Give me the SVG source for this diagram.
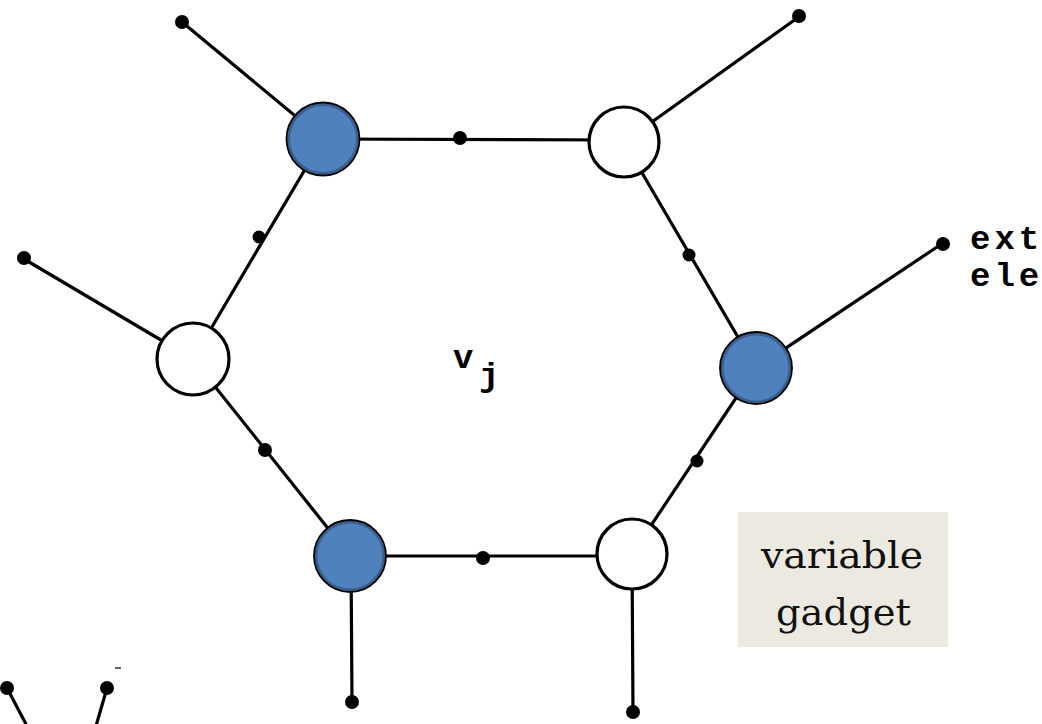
<svg xmlns="http://www.w3.org/2000/svg" width="1042" height="724" viewBox="0 0 1042 724">
<style>
.ln{stroke:#000;stroke-width:3.2;fill:none;stroke-linecap:round}
.dot{fill:#000}
.wn{fill:#fff;stroke:#000;stroke-width:3.2}
.bn{fill:#4F81BD;stroke:#3A5F8F;stroke-width:3}
.bo{fill:none;stroke:#000;stroke-width:1.8}
.mono{font-family:"Liberation Mono","DejaVu Sans Mono",monospace;font-size:34px;font-weight:bold;fill:#000}
.lbl{font-family:"DejaVu Serif","Liberation Serif",serif;font-size:37px;fill:#111}
</style>
<rect width="1042" height="724" fill="#fff"/>
<g id="connectors">
<line class="ln" x1="323" y1="139" x2="624" y2="140"/>
<line class="ln" x1="323" y1="139" x2="193" y2="359"/>
<line class="ln" x1="624" y1="142" x2="756" y2="368"/>
<line class="ln" x1="193" y1="359" x2="350" y2="556"/>
<line class="ln" x1="756" y1="368" x2="632" y2="554"/>
<line class="ln" x1="350" y1="556" x2="632" y2="556"/>
<line class="ln" x1="323" y1="139" x2="182" y2="22"/>
<line class="ln" x1="624" y1="142" x2="800" y2="16"/>
<line class="ln" x1="193" y1="359" x2="24" y2="259"/>
<line class="ln" x1="756" y1="368" x2="943" y2="243"/>
<line class="ln" x1="351" y1="556" x2="352" y2="702"/>
<line class="ln" x1="632" y1="554" x2="633" y2="712"/>
<line class="ln" x1="7" y1="688" x2="27" y2="726"/>
<line class="ln" x1="107" y1="688" x2="96" y2="726"/>
<line stroke="#000" stroke-width="1.2" x1="115" y1="668" x2="121" y2="668"/>
<circle class="dot" cx="460" cy="138" r="7"/>
<circle class="dot" cx="259" cy="237" r="6.5"/>
<circle class="dot" cx="689" cy="255" r="6.5"/>
<circle class="dot" cx="265" cy="450" r="7"/>
<circle class="dot" cx="697" cy="461" r="6.5"/>
<circle class="dot" cx="483" cy="558" r="7"/>
<circle class="dot" cx="182" cy="22" r="7"/>
<circle class="dot" cx="799" cy="16" r="7"/>
<circle class="dot" cx="24" cy="258" r="7"/>
<circle class="dot" cx="943" cy="244" r="7"/>
<circle class="dot" cx="352" cy="702" r="7"/>
<circle class="dot" cx="633" cy="712" r="7"/>
<circle class="dot" cx="7" cy="688" r="7"/>
<circle class="dot" cx="107" cy="688" r="7"/>
</g>
<g id="n_tl"><circle class="bn" cx="323" cy="139" r="34.5"/><circle class="bo" cx="323" cy="139" r="36.5"/></g>
<g id="n_tr"><circle class="wn" cx="624" cy="142" r="35"/></g>
<g id="n_l"><circle class="wn" cx="193" cy="359" r="36"/></g>
<g id="n_r"><circle class="bn" cx="756" cy="368" r="34"/><circle class="bo" cx="756" cy="368" r="36"/></g>
<g id="n_bl"><circle class="bn" cx="350" cy="556" r="34"/><circle class="bo" cx="350" cy="556" r="36"/></g>
<g id="n_br"><circle class="wn" cx="632" cy="554" r="35"/></g>
<g id="labels">
<text class="mono" x="453" y="368">v</text>
<text class="mono" x="479" y="386">j</text>
<text class="mono" x="970" y="249" letter-spacing="4">ext-</text>
<text class="mono" x="970" y="286" letter-spacing="4">ele</text>
</g>
<g id="gadget_label">
<rect x="738" y="512" width="210" height="135" fill="#ECEAE0"/>
<text class="lbl" x="761" y="568" textLength="162" lengthAdjust="spacingAndGlyphs">variable</text>
<text class="lbl" x="776" y="625" textLength="135" lengthAdjust="spacingAndGlyphs">gadget</text>
</g>
</svg>
